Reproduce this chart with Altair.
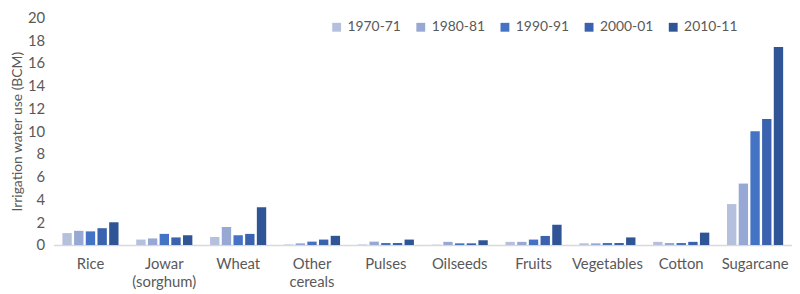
import altair as alt
import pandas as pd

crops = ["Rice", "Jowar|(sorghum)", "Wheat", "Other|cereals", "Pulses", "Oilseeds",
         "Fruits", "Vegetables", "Cotton", "Sugarcane"]
years = ["1970-71", "1980-81", "1990-91", "2000-01", "2010-11"]
colors = ["#b4c0dc", "#98a8d4", "#4472c4", "#3a62ae", "#2f5597"]

v1970 = [1.05, 0.48, 0.70, 0.05, 0.05, 0.03, 0.28, 0.15, 0.28, 3.60]
v1980 = [1.25, 0.58, 1.59, 0.15, 0.30, 0.28, 0.28, 0.15, 0.18, 5.40]
v1990 = [1.20, 0.98, 0.86, 0.30, 0.18, 0.15, 0.48, 0.18, 0.18, 10.00]
v2000 = [1.48, 0.67, 0.98, 0.48, 0.18, 0.15, 0.80, 0.18, 0.28, 11.07]
v2010 = [2.00, 0.86, 3.32, 0.81, 0.48, 0.42, 1.78, 0.67, 1.09, 17.40]

series = [v1970, v1980, v1990, v2000, v2010]
rows = []
for y, vals in zip(years, series):
    for c, v in zip(crops, vals):
        rows.append({"crop": c, "year": y, "value": v})
df = pd.DataFrame(rows)

font = "Lato"
grey = "#595959"

chart = alt.Chart(df).mark_bar().encode(
    x=alt.X("crop:N", sort=crops, title=None,
            scale=alt.Scale(paddingInner=0.24, paddingOuter=0.12),
            axis=alt.Axis(labelAngle=0, labelExpr="split(datum.label, '|')",
                          labelFontSize=15, labelColor=grey, labelFont=font,
                          labelPadding=12, labelLineHeight=18,
                          domainColor="#d9d9d9", domainWidth=1.5, ticks=False)),
    xOffset=alt.XOffset("year:N", sort=years, scale=alt.Scale(paddingInner=0.2)),
    y=alt.Y("value:Q", title="Irrigation water use (BCM)",
            scale=alt.Scale(domain=[0, 20]),
            axis=alt.Axis(values=list(range(0, 21, 2)), grid=False, domain=False,
                          ticks=False, labelFontSize=15, labelColor=grey,
                          labelFont=font, labelPadding=9,
                          titleFontSize=14, titleColor=grey, titleFont=font,
                          titleFontWeight="normal", titlePadding=3)),
    color=alt.Color("year:N", sort=years,
                    scale=alt.Scale(domain=years, range=colors),
                    legend=alt.Legend(title=None, orient="none", direction="horizontal",
                                      legendX=279, legendY=3, symbolType="square",
                                      symbolSize=80, symbolStrokeWidth=0,
                                      labelFontSize=14, labelColor=grey, labelFont=font,
                                      columnPadding=13, labelOffset=4)),
).properties(
    width=746, height=230,
    autosize=alt.AutoSizeParams(type="none"),
    padding={"left": 46, "top": 8, "right": 0, "bottom": 48},
).configure_view(stroke=None)

chart.save("out.html", embed_options={"renderer": "svg", "actions": False})
